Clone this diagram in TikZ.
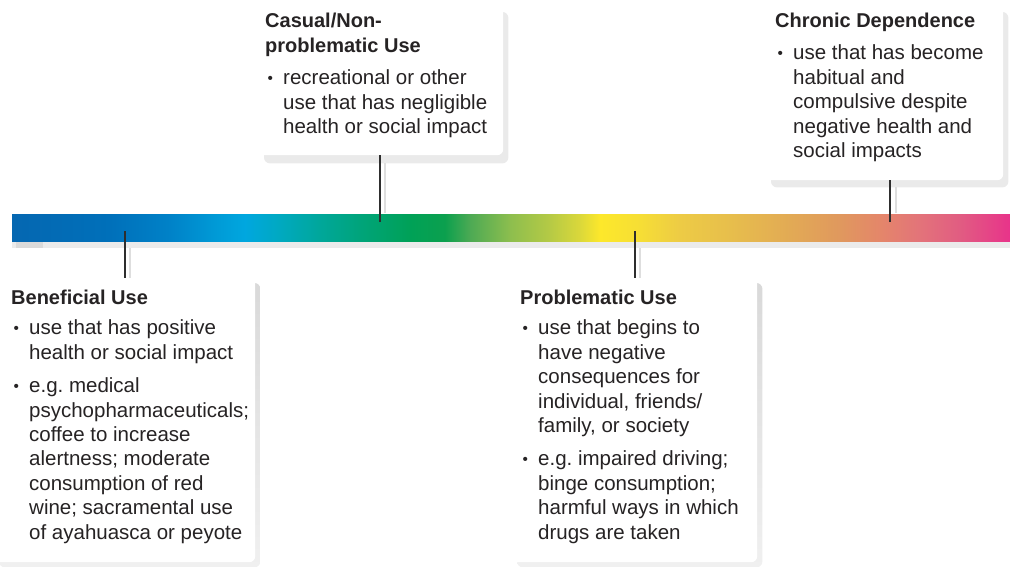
\documentclass[tikz,border=0pt]{standalone}
\usepackage{graphicx}
\usepackage{fontspec}
\setmainfont{Liberation Sans}
\usetikzlibrary{backgrounds}

\definecolor{ink}{HTML}{262324}
\definecolor{pinline}{HTML}{2E2E2E}
\definecolor{pinshade}{HTML}{DEDEDE}
\definecolor{cardshade}{HTML}{EAEAEA}
\definecolor{cardshadetop}{HTML}{D9D9D9}
\definecolor{cardshadebot}{HTML}{F0F0F0}
\definecolor{barshade}{HTML}{EBEBEB}
\definecolor{barshadedark}{HTML}{DADADA}

% spectrum stops along the bar
\definecolor{s0}{HTML}{0567B1}
\definecolor{s1}{HTML}{0070BA}
\definecolor{s2}{HTML}{0082C8}
\definecolor{s3}{HTML}{009AD6}
\definecolor{s4}{HTML}{00A7DF}
\definecolor{s5}{HTML}{00A9C0}
\definecolor{s6}{HTML}{00A79A}
\definecolor{s7}{HTML}{00A47A}
\definecolor{s8}{HTML}{00A157}
\definecolor{s9}{HTML}{0CA04E}
\definecolor{s10}{HTML}{4DAA54}
\definecolor{s11}{HTML}{8DBE4E}
\definecolor{s12}{HTML}{B6CA45}
\definecolor{s13}{HTML}{DBD83A}
\definecolor{s14}{HTML}{FDE82B}
\definecolor{s15}{HTML}{F6DE35}
\definecolor{s16}{HTML}{EDCB45}
\definecolor{s17}{HTML}{E7BE4C}
\definecolor{s18}{HTML}{E2AA55}
\definecolor{s19}{HTML}{E0985E}
\definecolor{s20}{HTML}{E4866A}
\definecolor{s21}{HTML}{E3737A}
\definecolor{s22}{HTML}{E15C82}
\definecolor{s23}{HTML}{E8338A}

\newcommand\bodyfont{\fontsize{20.5}{24.4}\selectfont\frenchspacing}
\newcommand\ttlfont{\fontsize{20}{24.4}\selectfont\bfseries}
\newcommand\bul[1]{\par\noindent\hangindent=18pt\hangafter=1%
  \makebox[18pt][l]{\hspace{2.5pt}\raisebox{1.6pt}{\scalebox{0.75}{\textbullet}}}#1\par}

\tikzset{
  card/.style={draw=none, fill=white, rounded corners=6pt, inner sep=0pt,
               anchor=north west},
  txt/.style={anchor=base west, inner sep=0pt, text=ink},
  pin/.style={draw=pinline, line width=1.3pt},
  pinshadow/.style={draw=pinshade, line width=2pt},
}

\begin{document}
\begin{tikzpicture}[x=1pt, y=-1pt]
\useasboundingbox (0,0) rectangle (1010,567);

% cards
\node[card, minimum width=244pt, minimum height=153pt] (casbox)  at (259,2) {};
\node[card, minimum width=237pt, minimum height=178pt] (chrbox)  at (766,2) {};
\node[card, minimum width=261pt, minimum height=284pt] (benbox)  at (-6,278) {};
\node[card, minimum width=245pt, minimum height=284pt] (probbox) at (512,278) {};

% card shadows
\begin{pgfonlayer}{background}
  \fill[cardshade, rounded corners=6pt]
    ([xshift=5pt,yshift=-10pt]casbox.north west) rectangle ([xshift=5pt,yshift=-8pt]casbox.south east);
  \fill[cardshade, rounded corners=6pt]
    ([xshift=5pt,yshift=-10pt]chrbox.north west) rectangle ([xshift=5pt,yshift=-7pt]chrbox.south east);
  \shade[top color=cardshadetop, bottom color=cardshadebot, rounded corners=6pt]
    ([xshift=5pt,yshift=-5pt]benbox.north west) rectangle ([xshift=5pt,yshift=-5pt]benbox.south east);
  \shade[top color=cardshadetop, bottom color=cardshadebot, rounded corners=6pt]
    ([xshift=5pt,yshift=-5pt]probbox.north west) rectangle ([xshift=5pt,yshift=-5pt]probbox.south east);
\end{pgfonlayer}

% bar shadow
\fill[barshade] (12,242) rectangle (1010,248);
\fill[barshadedark] (16,242) rectangle (43,248);

% spectrum bar
\foreach \a/\ca/\b/\cb in {12/s0/110/s1, 110/s1/170/s2, 170/s2/215/s3,
    215/s3/245/s4, 245/s4/280/s5, 280/s5/320/s6, 320/s6/360/s7,
    360/s7/410/s8, 410/s8/445/s9, 445/s9/470/s10, 470/s10/510/s11,
    510/s11/550/s12, 550/s12/580/s13, 580/s13/600/s14, 600/s14/640/s15,
    640/s15/680/s16, 680/s16/730/s17, 730/s17/790/s18, 790/s18/840/s19,
    840/s19/880/s20, 880/s20/920/s21, 920/s21/960/s22, 960/s22/1010/s23}
  \shade[left color=\ca, right color=\cb] (\a,214) rectangle (\b+0.5,241);

% pins on the bar and their shadows
\coordinate (benpin)  at (125,231);
\coordinate (caspin)  at (380,222);
\coordinate (probpin) at (635,231);
\coordinate (chrpin)  at (890,222);
\coordinate (bensh)  at (130,248);
\coordinate (cassh)  at (385,213);
\coordinate (probsh) at (640,248);
\coordinate (chrsh)  at (896,213);

\draw[pinshadow] (bensh)  -- (bensh  |- benbox.north);
\draw[pinshadow] (probsh) -- (probsh |- probbox.north);
\draw[pinshadow] (cassh)  -- ([yshift=-8pt]cassh |- casbox.south);
\draw[pinshadow] (chrsh)  -- ([yshift=-7pt]chrsh |- chrbox.south);

\draw[pin] (benpin)  -- (benpin  |- benbox.north);
\draw[pin] (caspin)  -- (caspin  |- casbox.south);
\draw[pin] (probpin) -- (probpin |- probbox.north);
\draw[pin] (chrpin)  -- (chrpin  |- chrbox.south);

% card texts
\node[txt] (castxt) at (265,28) {\parbox[t]{260pt}{\bodyfont
  {\ttlfont Casual/Non-\\problematic Use}\par\vspace{8pt}
  \bul{recreational or other\\use that has negligible\\health or social impact}}};

\node[txt] (chrtxt) at (775,27.5) {\parbox[t]{260pt}{\bodyfont
  {\ttlfont Chronic Dependence}\par\vspace{8pt}
  \bul{use that has become\\habitual and\\compulsive despite\\negative health and\\social impacts}}};

\node[txt] (bentxt) at (11,304.5) {\parbox[t]{280pt}{\bodyfont
  {\ttlfont Beneficial Use}\par\vspace{6pt}
  \bul{use that has positive\\health or social impact}
  \vspace{9pt}
  \bul{e.g. medical\\psychopharmaceuticals;\\coffee to increase\\alertness; moderate\\consumption of red\\wine; sacramental use\\of ayahuasca or peyote}}};

\node[txt] (probtxt) at (520,304.5) {\parbox[t]{280pt}{\bodyfont
  {\ttlfont Problematic Use}\par\vspace{6pt}
  \bul{use that begins to\\have negative\\consequences for\\individual, friends/\\family, or society}
  \vspace{9pt}
  \bul{e.g. impaired driving;\\binge consumption;\\harmful ways in which\\drugs are taken}}};
\end{tikzpicture}
\end{document}
